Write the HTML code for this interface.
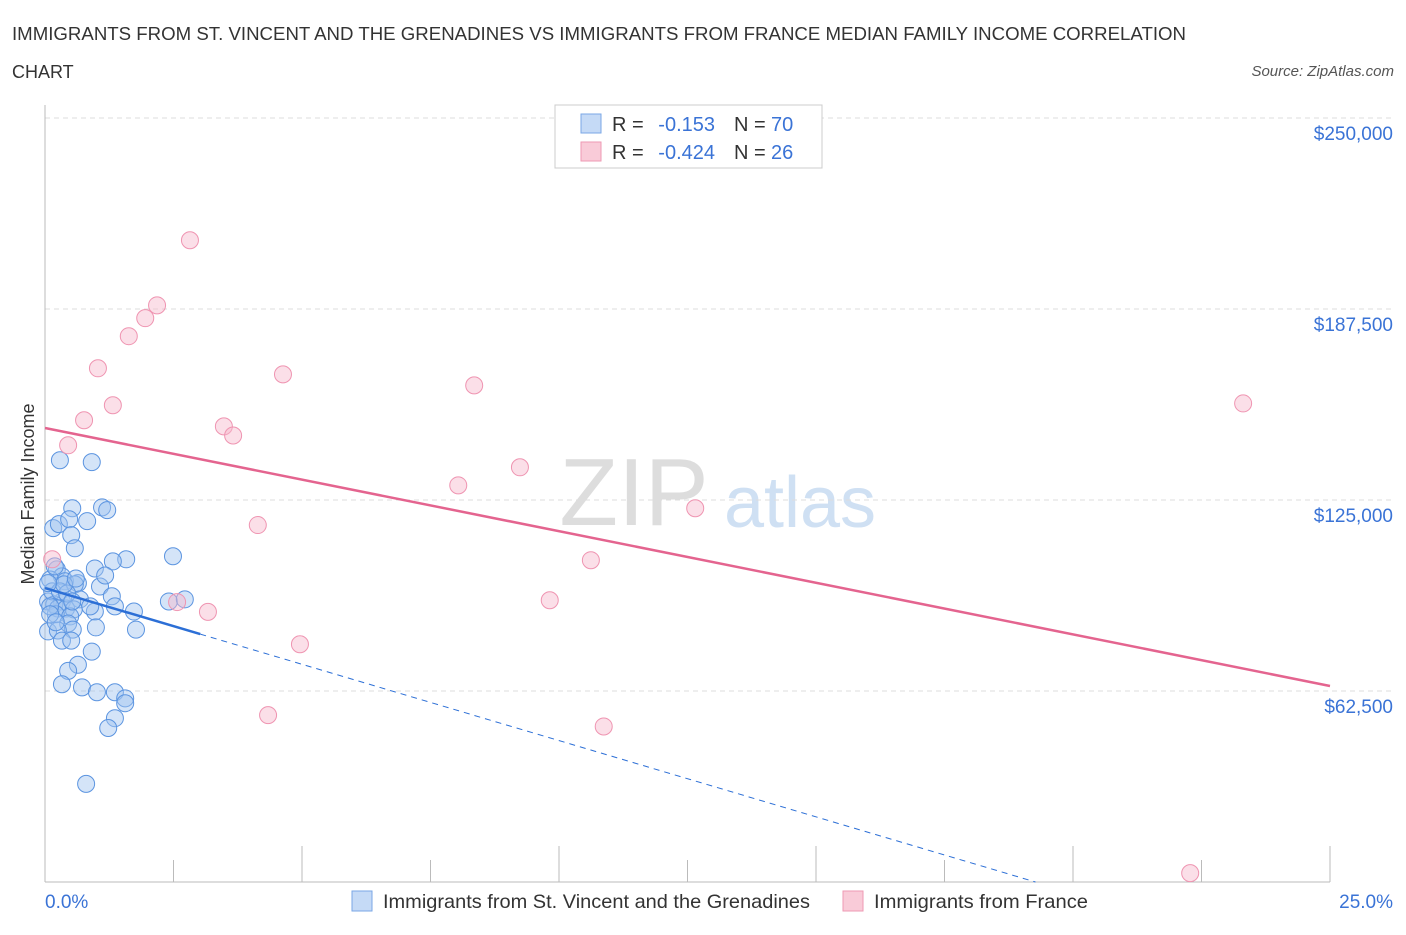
<!DOCTYPE html>
<html><head><meta charset="utf-8"><style>
body{margin:0;background:#fff;font-family:"Liberation Sans",sans-serif;}
svg text{font-family:"Liberation Sans",sans-serif;}
</style></head><body>
<svg id="c" width="1406" height="930" xmlns="http://www.w3.org/2000/svg">
<text x="12" y="40" font-size="18" fill="#333" textLength="1174" lengthAdjust="spacingAndGlyphs">IMMIGRANTS FROM ST. VINCENT AND THE GRENADINES VS IMMIGRANTS FROM FRANCE MEDIAN FAMILY INCOME CORRELATION</text>
<text x="12" y="78" font-size="18" fill="#333">CHART</text>
<text x="1394" y="76" font-size="15" fill="#555" font-style="italic" text-anchor="end">Source: ZipAtlas.com</text>
<text x="634" y="525" font-size="96" fill="#ddd" font-family="Liberation Serif" text-anchor="middle">ZIP</text>
<text x="800" y="527" font-size="72" fill="#cfe0f3" text-anchor="middle">atlas</text>
<text transform="translate(34,494) rotate(-90)" font-size="18" fill="#333" text-anchor="middle">Median Family Income</text>
<g id="grid"></g><g id="pts"></g><g id="lines"></g>
<g>
<rect x="555" y="105" width="267" height="63" fill="#fff" stroke="#ccc"/>
<rect x="581" y="114" width="20" height="19" fill="#c5daf6" stroke="#7aa7e6"/>
<rect x="581" y="142" width="20" height="19" fill="#f9cbd8" stroke="#ee9ab3"/>
<text x="612" y="131" font-size="20" fill="#333">R =</text>
<text x="715" y="131" font-size="20" fill="#3a73d6" text-anchor="end">-0.153</text>
<text x="734" y="131" font-size="20" fill="#333">N =</text>
<text x="771" y="131" font-size="20" fill="#3a73d6">70</text>
<text x="612" y="159" font-size="20" fill="#333">R =</text>
<text x="715" y="159" font-size="20" fill="#3a73d6" text-anchor="end">-0.424</text>
<text x="734" y="159" font-size="20" fill="#333">N =</text>
<text x="771" y="159" font-size="20" fill="#3a73d6">26</text>
</g>
<g>
<rect x="352" y="891" width="20" height="20" fill="#c5daf6" stroke="#7aa7e6"/>
<text x="383" y="908" font-size="19.5" fill="#333" textLength="427" lengthAdjust="spacingAndGlyphs">Immigrants from St. Vincent and the Grenadines</text>
<rect x="843" y="891" width="20" height="20" fill="#f9cbd8" stroke="#ee9ab3"/>
<text x="874" y="908" font-size="19.5" fill="#333" textLength="214" lengthAdjust="spacingAndGlyphs">Immigrants from France</text>
</g>
<text x="45" y="908" font-size="19" fill="#3a73d6">0.0%</text>
<text x="1393" y="908" font-size="19" fill="#3a73d6" text-anchor="end">25.0%</text>
</svg>
<script>
const yTicks=[62500,125000,187500,250000];
const yTickLabels=["$62,500","$125,000","$187,500","$250,000"];
const blueX=[0.29,0.91,0.53,1.11,1.21,0.16,0.27,0.47,0.82,0.51,0.58,1.58,1.32,2.49,0.97,0.23,0.33,0.10,0.39,0.64,0.58,1.07,1.30,0.68,0.33,0.06,0.18,0.25,0.41,0.56,1.36,0.97,1.73,0.21,0.49,0.45,0.99,0.54,1.77,0.06,0.25,0.33,0.51,0.64,0.45,0.91,0.33,0.72,1.01,1.36,1.56,1.56,1.36,1.23,0.80,2.41,2.72,0.14,0.29,0.43,0.10,0.53,0.88,0.19,0.37,0.10,0.21,0.06,1.17,0.60];
const blueY=[138000,137400,122300,122600,121700,115800,117100,118700,118100,113500,109200,105600,104900,106600,102600,102300,100000,99000,98400,97800,97400,96700,93500,92500,91800,91800,90800,89500,89500,89200,90200,88500,88500,87600,86900,84600,83300,82600,82600,82000,82300,79000,79000,71100,69100,75400,64700,63700,62100,62100,60100,58500,53600,50400,32100,91800,92500,95100,95100,94400,90200,91800,90200,103300,97400,87600,85000,97800,100300,99300];
const pinkX=[2.82,2.18,1.95,1.63,1.03,1.32,0.76,0.45,4.63,8.35,3.48,3.66,23.31,9.24,8.04,12.65,4.14,10.62,9.82,2.57,3.17,4.96,4.34,10.87,22.28,0.14];
const pinkY=[210000,188700,184500,178600,168100,156000,151100,142900,166100,162500,149100,146100,156600,135700,129800,122300,116800,105300,92200,91600,88400,77800,54600,50900,2900,105600];
const blueTrend=[96200,-4992], pinkTrend=[148560,-3377];
const X=p=>45+p/25*1285, Y=v=>882-v/62500*191;
const NS="http://www.w3.org/2000/svg";
function mk(t,a,p){const e=document.createElementNS(NS,t);for(const k in a)e.setAttribute(k,a[k]);p.appendChild(e);return e;}
const g=document.getElementById('grid');
yTicks.forEach((v,i)=>{
 const l=mk('line',{x1:45,x2:1394,y1:Y(v),y2:Y(v),stroke:'#ddd','stroke-dasharray':'5,4'},g);
 
 
 const t=mk('text',{x:1393,y:Y(v)+22,'font-size':19,fill:'#3a73d6','text-anchor':'end'},g);t.textContent=yTickLabels[i];
 
 
});
mk('line',{x1:45,x2:45,y1:105,y2:882,stroke:'#bbb'},g);
mk('line',{x1:45,x2:1330,y1:882,y2:882,stroke:'#bbb'},g);
for(let i=0;i<=10;i++){const x=X(i*2.5);const tk=mk('line',{x1:x,x2:x,y1:i%2?860:846,y2:882,stroke:'#bbb'},g);
 
 }
const P=document.getElementById('pts');
blueX.forEach((x,i)=>{const c=mk('circle',{cx:X(x),cy:Y(blueY[i]),r:8.5,fill:'rgba(160,196,240,0.45)',stroke:'#5b94e0','stroke-width':1},P);
 
 });
pinkX.forEach((x,i)=>{const c=mk('circle',{cx:X(x),cy:Y(pinkY[i]),r:8.5,fill:'rgba(246,184,204,0.45)',stroke:'#ef94b1','stroke-width':1},P);
 
 });
const L=document.getElementById('lines');
const bz=-blueTrend[0]/blueTrend[1];
let a=mk('line',{x1:X(0),y1:Y(blueTrend[0]),x2:X(3.02),y2:Y(blueTrend[0]+blueTrend[1]*3.02),stroke:'#2c6fd6','stroke-width':2.5},L);


a=mk('line',{x1:X(3.02),y1:Y(blueTrend[0]+blueTrend[1]*3.02),x2:X(bz),y2:Y(0),stroke:'#2c6fd6','stroke-width':1,'stroke-dasharray':'6,5'},L);


a=mk('line',{x1:X(0),y1:Y(pinkTrend[0]),x2:X(25),y2:Y(pinkTrend[0]+pinkTrend[1]*25),stroke:'#e4648f','stroke-width':2.5},L);


</script>
</body></html>
